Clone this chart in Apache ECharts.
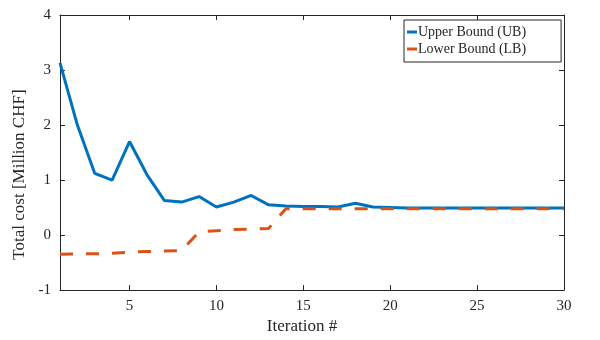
<!DOCTYPE html>
<html>
<head>
<meta charset="utf-8">
<script src="https://cdn.jsdelivr.net/npm/echarts@6/dist/echarts.min.js"></script>
<style>
  html, body { margin: 0; padding: 0; background: #fff; }
  #chart { width: 600px; height: 340px; }
</style>
</head>
<body>
<div id="chart"></div>
<script>
// iteration numbers and bound values (Million CHF)
const iterations = [1, 2, 3, 4, 5, 6, 7, 8, 9, 10, 11, 12, 13, 14, 15, 16, 17, 18, 19, 20, 21, 22, 23, 24, 25, 26, 27, 28, 29, 30]
const upperBound = [3.13, 2.0, 1.12, 1.0, 1.7, 1.1, 0.63, 0.6, 0.7, 0.51, 0.6, 0.72, 0.55, 0.53, 0.52, 0.52, 0.51, 0.58, 0.51, 0.5, 0.49, 0.49, 0.49, 0.49, 0.49, 0.49, 0.49, 0.49, 0.49, 0.49]
const lowerBound = [-0.35, -0.34, -0.34, -0.33, -0.31, -0.3, -0.29, -0.28, 0.06, 0.08, 0.1, 0.11, 0.12, 0.48, 0.48, 0.48, 0.48, 0.48, 0.48, 0.48, 0.48, 0.48, 0.48, 0.48, 0.48, 0.48, 0.48, 0.48, 0.48, 0.48]
const xTicks = [5, 10, 15, 20, 25, 30]
const seriesNames = ['Upper Bound (UB)', 'Lower Bound (LB)']

const font = 'Liberation Serif'
const axisColor = '#262626'

function pairs(vals) {
    return iterations.map(function (it, i) { return [it, vals[i]] })
}

const xAxisBase = {
    type: 'value',
    min: 1,
    max: 30,
    axisLine: { show: true, onZero: false, lineStyle: { color: axisColor, width: 1 } },
    axisTick: { show: true, inside: true, length: 5, customValues: xTicks, lineStyle: { color: axisColor } },
    splitLine: { show: false }
}
const yAxisBase = {
    type: 'value',
    min: -1,
    max: 4,
    interval: 1,
    axisLine: { show: true, onZero: false, lineStyle: { color: axisColor, width: 1 } },
    axisTick: { show: true, inside: true, length: 5, lineStyle: { color: axisColor } },
    splitLine: { show: false }
}

const option = {
    animation: false,
    textStyle: { fontFamily: font },
    grid: { left: 60, right: 36, top: 15, bottom: 48 },
    legend: {
        orient: 'vertical',
        left: 404,
        top: 20,
        data: seriesNames,
        icon: 'rect',
        itemWidth: 10,
        itemHeight: 3,
        itemGap: 3,
        padding: [5, 35, 6, 3],
        borderColor: axisColor,
        borderWidth: 1,
        backgroundColor: '#fff',
        textStyle: { fontFamily: font, fontSize: 14, color: '#262626', padding: [0, 0, 0, -4] }
    },
    xAxis: [
        Object.assign({}, xAxisBase, {
            position: 'bottom',
            name: 'Iteration #',
            nameLocation: 'middle',
            nameGap: 27,
            nameTextStyle: { fontFamily: font, fontSize: 17, color: '#262626', padding: [0, 20, 0, 0] },
            axisLabel: { customValues: xTicks, fontFamily: font, fontSize: 15, color: '#262626', margin: 8 }
        }),
        Object.assign({}, xAxisBase, {
            position: 'top',
            axisLabel: { show: false }
        })
    ],
    yAxis: [
        Object.assign({}, yAxisBase, {
            position: 'left',
            name: 'Total cost [Million CHF]',
            nameLocation: 'middle',
            nameGap: 30,
            nameTextStyle: { fontFamily: font, fontSize: 17, color: '#262626', padding: [0, 44, 0, 0] },
            axisLabel: { fontFamily: font, fontSize: 15, color: '#262626', margin: 9 }
        }),
        Object.assign({}, yAxisBase, {
            position: 'right',
            axisLabel: { show: false }
        })
    ],
    series: [
        {
            name: seriesNames[0],
            type: 'line',
            data: pairs(upperBound),
            showSymbol: false,
            symbol: 'none',
            color: '#0072BD',
            lineStyle: { width: 3, color: '#0072BD' },
            z: 2
        },
        {
            name: seriesNames[1],
            type: 'line',
            data: pairs(lowerBound),
            showSymbol: false,
            symbol: 'none',
            color: '#D95319',
            lineStyle: { width: 3, color: '#D95319', type: [13, 13] },
            z: 3
        }
    ]
}

const chart = echarts.init(document.getElementById('chart'))
chart.setOption(option)
window.onresize = function () {
    chart.resize()
}
</script>
</body>
</html>
